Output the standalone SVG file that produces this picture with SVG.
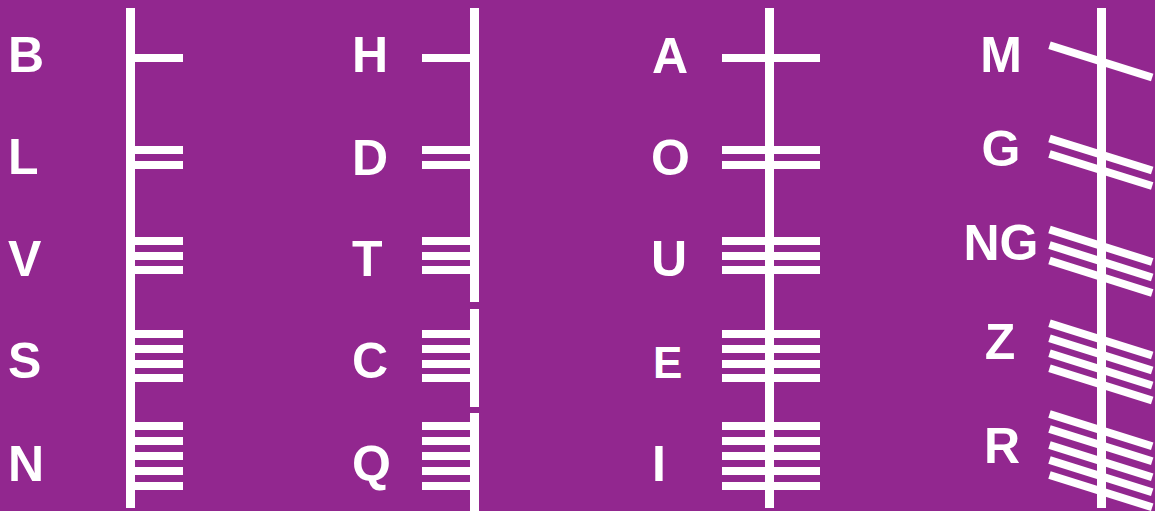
<svg xmlns="http://www.w3.org/2000/svg" width="1155" height="511" viewBox="0 0 1155 511">
<style>
.bg{fill:#92278F}
.s{fill:#FFFFFF}
.d{stroke:#FFFFFF;stroke-width:8;stroke-linecap:butt;fill:none}
.t{fill:#FFFFFF;font-family:"Liberation Sans",Arial,sans-serif;font-weight:bold;font-size:50px}
.c{text-anchor:middle}
</style>
<rect class="bg" x="0" y="0" width="1155" height="511"/>
<g id="stems">
<rect class="s" x="126" y="8" width="9" height="500"/>
<rect class="s" x="470" y="8" width="9" height="294"/>
<rect class="s" x="470" y="309" width="9" height="98"/>
<rect class="s" x="470" y="413" width="9" height="98"/>
<rect class="s" x="765" y="8" width="9" height="500"/>
<rect class="s" x="1097" y="8" width="9" height="500"/>
</g>
<!-- Column 1 -->
<g id="B"><text class="t" x="8" y="72">B</text>
<rect class="s" x="135" y="54" width="48" height="8"/></g>
<g id="L"><text class="t" x="8" y="174">L</text>
<rect class="s" x="135" y="146" width="48" height="8"/><rect class="s" x="135" y="161" width="48" height="8"/></g>
<g id="V"><text class="t" x="8" y="276">V</text>
<rect class="s" x="135" y="237" width="48" height="8"/><rect class="s" x="135" y="252" width="48" height="8"/><rect class="s" x="135" y="266" width="48" height="8"/></g>
<g id="S"><text class="t" x="8" y="378">S</text>
<rect class="s" x="135" y="330" width="48" height="8"/><rect class="s" x="135" y="345" width="48" height="8"/><rect class="s" x="135" y="360" width="48" height="8"/><rect class="s" x="135" y="374" width="48" height="8"/></g>
<g id="N"><text class="t" x="8" y="481">N</text>
<rect class="s" x="135" y="422" width="48" height="8"/><rect class="s" x="135" y="437" width="48" height="8"/><rect class="s" x="135" y="452" width="48" height="8"/><rect class="s" x="135" y="467" width="48" height="8"/><rect class="s" x="135" y="482" width="48" height="8"/></g>
<!-- Column 2 -->
<g id="H"><text class="t" x="352" y="72">H</text>
<rect class="s" x="422" y="54" width="48" height="8"/></g>
<g id="D"><text class="t" x="352" y="175">D</text>
<rect class="s" x="422" y="146" width="48" height="8"/><rect class="s" x="422" y="161" width="48" height="8"/></g>
<g id="T"><text class="t" x="352" y="276">T</text>
<rect class="s" x="422" y="237" width="48" height="8"/><rect class="s" x="422" y="252" width="48" height="8"/><rect class="s" x="422" y="266" width="48" height="8"/></g>
<g id="C"><text class="t" x="352" y="378">C</text>
<rect class="s" x="422" y="330" width="48" height="8"/><rect class="s" x="422" y="345" width="48" height="8"/><rect class="s" x="422" y="360" width="48" height="8"/><rect class="s" x="422" y="374" width="48" height="8"/></g>
<g id="Q"><text class="t" x="352" y="481">Q</text>
<rect class="s" x="422" y="422" width="48" height="8"/><rect class="s" x="422" y="437" width="48" height="8"/><rect class="s" x="422" y="452" width="48" height="8"/><rect class="s" x="422" y="467" width="48" height="8"/><rect class="s" x="422" y="482" width="48" height="8"/></g>
<!-- Column 3 -->
<g id="A"><text class="t" x="652" y="72.5">A</text>
<rect class="s" x="722" y="54" width="98" height="8"/></g>
<g id="O"><text class="t" x="651" y="174.5">O</text>
<rect class="s" x="722" y="146" width="98" height="8"/><rect class="s" x="722" y="161" width="98" height="8"/></g>
<g id="U"><text class="t" x="651" y="275.5">U</text>
<rect class="s" x="722" y="237" width="98" height="8"/><rect class="s" x="722" y="252" width="98" height="8"/><rect class="s" x="722" y="266" width="98" height="8"/></g>
<g id="E"><text class="t" x="653" y="378" style="font-size:44px">E</text>
<rect class="s" x="722" y="330" width="98" height="8"/><rect class="s" x="722" y="345" width="98" height="8"/><rect class="s" x="722" y="360" width="98" height="8"/><rect class="s" x="722" y="374" width="98" height="8"/></g>
<g id="I"><text class="t" x="652" y="481">I</text>
<rect class="s" x="722" y="422" width="98" height="8"/><rect class="s" x="722" y="437" width="98" height="8"/><rect class="s" x="722" y="452" width="98" height="8"/><rect class="s" x="722" y="467" width="98" height="8"/><rect class="s" x="722" y="482" width="98" height="8"/></g>
<!-- Column 4 -->
<g id="M"><text class="t c" x="1001" y="72">M</text>
<line class="d" x1="1049.5" y1="45.3" x2="1152.2" y2="77.5"/></g>
<g id="G"><text class="t c" x="1001" y="166">G</text>
<line class="d" x1="1049.5" y1="138.5" x2="1152.2" y2="170.5"/><line class="d" x1="1049.5" y1="154" x2="1152.2" y2="186"/></g>
<g id="NG"><text class="t c" x="1001" y="260">NG</text>
<line class="d" x1="1049.5" y1="229.5" x2="1152.2" y2="262"/><line class="d" x1="1049.5" y1="245" x2="1152.2" y2="277.5"/><line class="d" x1="1049.5" y1="260.5" x2="1152.2" y2="293"/></g>
<g id="Z"><text class="t c" x="1000" y="359">Z</text>
<line class="d" x1="1049.5" y1="323.3" x2="1152.2" y2="355.5"/><line class="d" x1="1049.5" y1="338.3" x2="1152.2" y2="370.5"/><line class="d" x1="1049.5" y1="353.3" x2="1152.2" y2="385.5"/><line class="d" x1="1049.5" y1="368.3" x2="1152.2" y2="400.5"/></g>
<g id="R"><text class="t c" x="1002" y="463">R</text>
<line class="d" x1="1049.5" y1="414" x2="1152.2" y2="446.2"/><line class="d" x1="1049.5" y1="429" x2="1152.2" y2="461.2"/><line class="d" x1="1049.5" y1="445" x2="1152.2" y2="477.2"/><line class="d" x1="1049.5" y1="460" x2="1152.2" y2="492.2"/><line class="d" x1="1049.5" y1="475" x2="1152.2" y2="507.2"/></g>
</svg>
